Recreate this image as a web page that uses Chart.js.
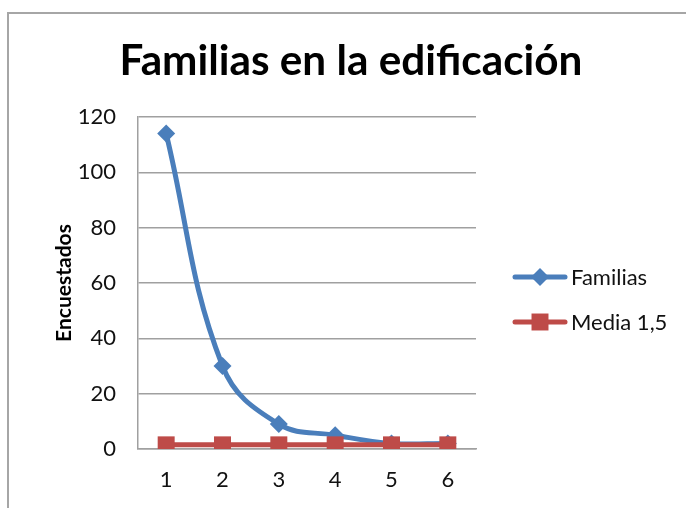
<!DOCTYPE html>
<html>
<head>
<meta charset="utf-8">
<script src="https://cdn.jsdelivr.net/npm/chart.js@4"></script>
<style>
  html, body { margin: 0; padding: 0; background: #fff; overflow: hidden; }
  #wrap { position: relative; width: 686px; height: 508px; }
  #frame { position: absolute; left: 7px; top: 12px; width: 700px; height: 520px; border: 2px solid #a6a6a6; box-sizing: border-box; }
  canvas { position: absolute; left: 0; top: 0; }
</style>
</head>
<body>
<div id="wrap">
  <div id="frame"></div>
  <canvas id="chart" width="686" height="508"></canvas>
</div>
<script>
const chartTitle = "Familias en la edificación";
const yTitle = "Encuestados";
const categories = ["1", "2", "3", "4", "5", "6"];
const familias = [114, 30, 9, 5, 2, 2];
const media = [1.5, 1.5, 1.5, 1.5, 1.5, 1.5];
const seriesNames = ["Familias", "Media 1,5"];

const blue = "#4a7ebb";
const red = "#be4b48";
const font = "Lato, 'Open Sans', sans-serif";

// title and line+marker legend drawn by hand, like the office chart
const extras = {
    id: "extras",
    afterDraw(chart) {
        const ctx = chart.ctx;
        ctx.save();
        ctx.fillStyle = "#000";
        ctx.textAlign = "center";
        ctx.textBaseline = "alphabetic";
        let size = 40;
        ctx.font = `bold ${size}px ${font}`;
        const w = ctx.measureText(chartTitle).width;
        size = size * 463 / w;
        ctx.font = `bold ${size}px ${font}`;
        ctx.fillText(chartTitle, 351, 75);

        const items = [
            {name: seriesNames[0], color: blue, y: 277, shape: "rectRot", r: 9},
            {name: seriesNames[1], color: red, y: 322, shape: "rect", r: 12}
        ];
        items.forEach(it => {
            ctx.strokeStyle = it.color;
            ctx.lineWidth = 5;
            ctx.lineCap = "round";
            ctx.beginPath();
            ctx.moveTo(515, it.y);
            ctx.lineTo(565, it.y);
            ctx.stroke();
            ctx.fillStyle = it.color;
            Chart.helpers.drawPoint(ctx, {pointStyle: it.shape, radius: it.r, borderWidth: 0}, 540, it.y);
            ctx.fillStyle = "#111";
            ctx.font = `22px ${font}`;
            ctx.textAlign = "left";
            ctx.textBaseline = "middle";
            ctx.fillText(it.name, 571, it.y + 1);
        });
        ctx.restore();
    }
};

new Chart(document.getElementById("chart"), {
    type: "line",
    data: {
        labels: categories,
        datasets: [
            {
                label: seriesNames[0], data: familias, borderColor: blue, backgroundColor: blue,
                borderWidth: 5, tension: 0.4, pointStyle: "rectRot", pointRadius: 9,
                pointBorderWidth: 0, order: 1
            },
            {
                label: seriesNames[1], data: media, borderColor: red, backgroundColor: red,
                borderWidth: 5, tension: 0, pointStyle: "rect", pointRadius: 12,
                pointBorderWidth: 0, order: 0
            }
        ]
    },
    options: {
        responsive: false,
        animation: false,
        layout: {padding: {left: 48, top: 117, right: 210, bottom: 0}},
        plugins: {legend: {display: false}, title: {display: false}, tooltip: {enabled: false}},
        scales: {
            x: {
                offset: true,
                grid: {display: false, drawTicks: false},
                border: {display: true, color: "#a0a0a0", width: 1.5},
                ticks: {color: "#111", font: {family: font, size: 22}, padding: 18},
                afterFit(scale) { scale.height = 59; }
            },
            y: {
                min: 0, max: 120,
                grid: {color: "#a0a0a0", lineWidth: 1.5, drawTicks: false},
                border: {display: true, color: "#a0a0a0", width: 1.5},
                ticks: {stepSize: 20, color: "#111", font: {family: font, size: 22}, padding: 22},
                title: {display: true, text: yTitle, color: "#000", font: {family: font, size: 21, weight: "bold"}},
                afterFit(scale) { scale.width = 90; }
            }
        }
    },
    plugins: [extras]
});
</script>
</body>
</html>
